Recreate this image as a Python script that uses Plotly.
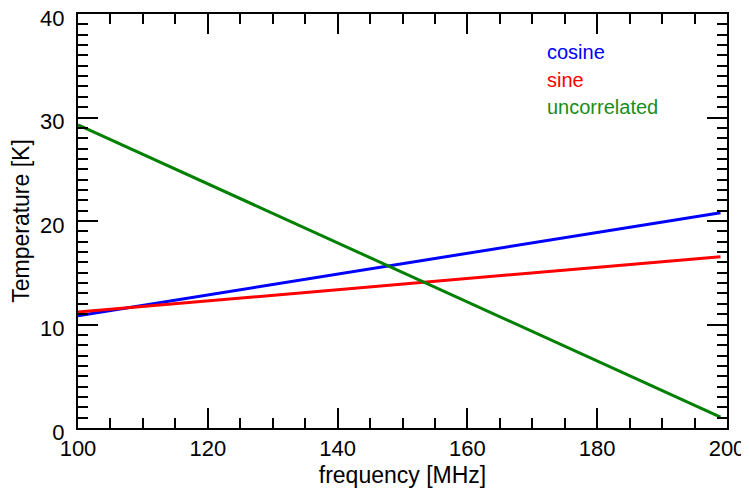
import plotly.graph_objects as go

frequency = [100, 199]
cosine = [10.85, 20.8]
sine = [11.2, 16.55]
uncorrelated = [29.3, 1.05]

series_names = ["cosine", "sine", "uncorrelated"]
series_values = [cosine, sine, uncorrelated]
colors = ["#0000ff", "#ff0000", "#008000"]
text_colors = ["#0000ff", "#ff0000", "#1a8c1a"]

x_ticks = [100, 120, 140, 160, 180, 200]
y_ticks = [0, 10, 20, 30, 40]

FONT = "Liberation Sans, Arial, Helvetica, sans-serif"

# page offset of the plot div (default body margin)
OFF = 8
W, H = 749 - OFF, 488 - OFF
L, R, T, B = 78, 727, 14, 428  # plot area in page pixels

fig = go.Figure()
for name, vals, c in zip(series_names, series_values, colors):
    fig.add_trace(go.Scatter(x=frequency, y=vals, mode="lines", name=name,
                             line=dict(color=c, width=3), showlegend=False))

for i, (name, c) in enumerate(zip(series_names, text_colors)):
    fig.add_annotation(text=name, xref="paper", yref="paper",
                       x=(545 - L) / (R - L), y=(B - (52 + 27.5 * i)) / (B - T),
                       xanchor="left", yanchor="middle", showarrow=False,
                       font=dict(family=FONT, size=20, color=c))

axis_common = dict(showgrid=False, zeroline=False, showline=True, linecolor="black",
                   linewidth=2, ticks="inside", tickcolor="black", tickwidth=2,
                   mirror="allticks", automargin=False, ticklabeloverflow="allow",
                   tickfont=dict(family=FONT, size=22, color="black"))

fig.update_xaxes(range=[100, 200], tickvals=x_ticks, ticklen=20,
                 minor=dict(dtick=5, ticks="inside", ticklen=10, tickcolor="black", tickwidth=2),
                 title=dict(text="frequency [MHz]", font=dict(family=FONT, size=23, color="black"),
                            standoff=8),
                 **axis_common)
fig.update_yaxes(range=[0, 40], tickvals=y_ticks, ticklen=20, ticklabelstandoff=7,
                 ticklabelshift=4,
                 minor=dict(dtick=1, ticks="inside", ticklen=10, tickcolor="black", tickwidth=2),
                 title=dict(text="Temperature [K]", font=dict(family=FONT, size=23, color="black"),
                            standoff=6),
                 **axis_common)

fig.update_layout(width=W, height=H, plot_bgcolor="white", paper_bgcolor="white",
                  margin=dict(l=L - OFF, r=OFF + W - R, t=T - OFF, b=OFF + H - B),
                  font=dict(family=FONT))

fig.write_html("out.html")
